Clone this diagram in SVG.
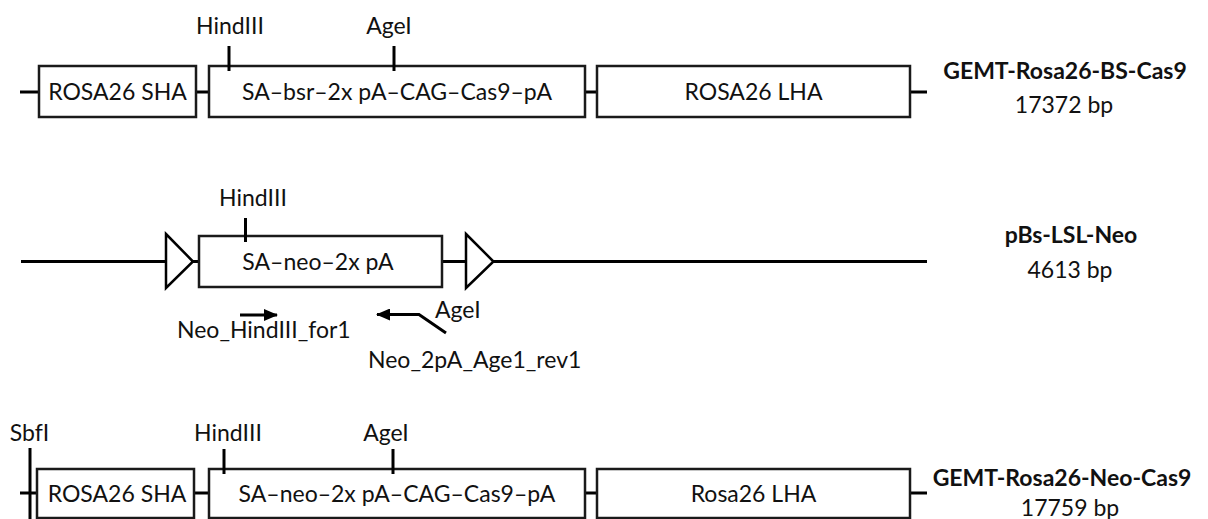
<svg xmlns="http://www.w3.org/2000/svg" width="1208" height="519" viewBox="0 0 1208 519">
<style>
text{font-family:Lato,"Open Sans","Liberation Sans",sans-serif;font-size:23px;fill:#111}
.b{font-weight:bold}
.m{text-anchor:middle}
.box{fill:#fff;stroke:#1a1a1a;stroke-width:2.5}
.ln{stroke:#000;stroke-width:3;fill:none}
.tk{stroke:#000;stroke-width:3}
.tri{fill:#fff;stroke:#000;stroke-width:2.5;stroke-linejoin:miter}
</style>
<defs>
<marker id="ah" viewBox="0 0 14 12" refX="13" refY="6" markerWidth="14" markerHeight="12" markerUnits="userSpaceOnUse" orient="auto">
<path d="M0,0 L14,6 L0,12 Z" fill="#000"/>
</marker>
</defs>
<g id="connectors">
<line class="ln" x1="20" y1="92" x2="39" y2="92"/>
<line class="ln" x1="196" y1="92" x2="209" y2="92"/>
<line class="ln" x1="585" y1="92" x2="597" y2="92"/>
<line class="ln" x1="910" y1="92" x2="927" y2="92"/>
<line class="ln" x1="21" y1="261.5" x2="166" y2="261.5"/>
<line class="ln" x1="193" y1="261.5" x2="199" y2="261.5"/>
<line class="ln" x1="442" y1="261.5" x2="466" y2="261.5"/>
<line class="ln" x1="493.5" y1="261.5" x2="927" y2="261.5"/>
<line class="ln" x1="20" y1="493" x2="37" y2="493"/>
<line class="ln" x1="194" y1="493" x2="209" y2="493"/>
<line class="ln" x1="585" y1="493" x2="597" y2="493"/>
<line class="ln" x1="910" y1="493" x2="927" y2="493"/>
</g>
<g id="row1">
<g id="r1-sha"><rect class="box" x="39" y="66" width="157" height="51"/><text class="m" x="117.5" y="100">ROSA26 SHA</text></g>
<g id="r1-cassette"><rect class="box" x="209" y="66" width="376" height="51"/><text class="m" x="397" y="100">SA–bsr–2x pA–CAG–Cas9–pA</text></g>
<g id="r1-lha"><rect class="box" x="597" y="66" width="313" height="51"/><text class="m" x="753.5" y="100">ROSA26 LHA</text></g>
<g id="r1-hindiii"><line class="tk" x1="229" y1="46" x2="229" y2="71"/><text class="m" x="230" y="34">HindIII</text></g>
<g id="r1-agei"><line class="tk" x1="394" y1="46" x2="394" y2="71"/><text class="m" x="389" y="34">AgeI</text></g>
<g id="r1-label"><text class="m b" x="1065" y="79">GEMT-Rosa26-BS-Cas9</text><text class="m" x="1064" y="113">17372 bp</text></g>
</g>
<g id="row2">
<g id="r2-loxp1"><polygon class="tri" points="166,234 193,261.5 166,288"/></g>
<g id="r2-cassette"><rect class="box" x="199" y="236" width="243" height="51"/><text class="m" x="318" y="270">SA–neo–2x pA</text></g>
<g id="r2-loxp2"><polygon class="tri" points="466,234 493.5,261.5 466,288"/></g>
<g id="r2-hindiii"><line class="tk" x1="245.5" y1="218" x2="245.5" y2="242"/><text class="m" x="253" y="206">HindIII</text></g>
<g id="r2-primer-for"><line class="ln" x1="240" y1="315" x2="277" y2="315" marker-end="url(#ah)"/><text x="177" y="338">Neo_HindIII_for1</text></g>
<g id="r2-primer-rev"><polyline class="ln" points="446,333 419,314.5 377,314.5" marker-end="url(#ah)"/><text x="435" y="318">AgeI</text><text x="368" y="368">Neo_2pA_Age1_rev1</text></g>
<g id="r2-label"><text class="m b" x="1071" y="243">pBs-LSL-Neo</text><text class="m" x="1070" y="278">4613 bp</text></g>
</g>
<g id="row3">
<g id="r3-sbfi"><line class="tk" x1="30" y1="448" x2="30" y2="519"/><text class="m" x="29.5" y="441">SbfI</text></g>
<g id="r3-sha"><rect class="box" x="37" y="469" width="157" height="49"/><text class="m" x="117" y="502">ROSA26 SHA</text></g>
<g id="r3-cassette"><rect class="box" x="209" y="469" width="376" height="49"/><text class="m" x="397" y="502">SA–neo–2x pA–CAG–Cas9–pA</text></g>
<g id="r3-lha"><rect class="box" x="597" y="469" width="313" height="49"/><text class="m" x="753.5" y="502">Rosa26 LHA</text></g>
<g id="r3-hindiii"><line class="tk" x1="224" y1="449" x2="224" y2="474"/><text class="m" x="228" y="441">HindIII</text></g>
<g id="r3-agei"><line class="tk" x1="393" y1="449" x2="393" y2="474"/><text class="m" x="386" y="441">AgeI</text></g>
<g id="r3-label"><text class="m b" x="1062" y="486">GEMT-Rosa26-Neo-Cas9</text><text class="m" x="1070" y="516">17759 bp</text></g>
</g>
</svg>
